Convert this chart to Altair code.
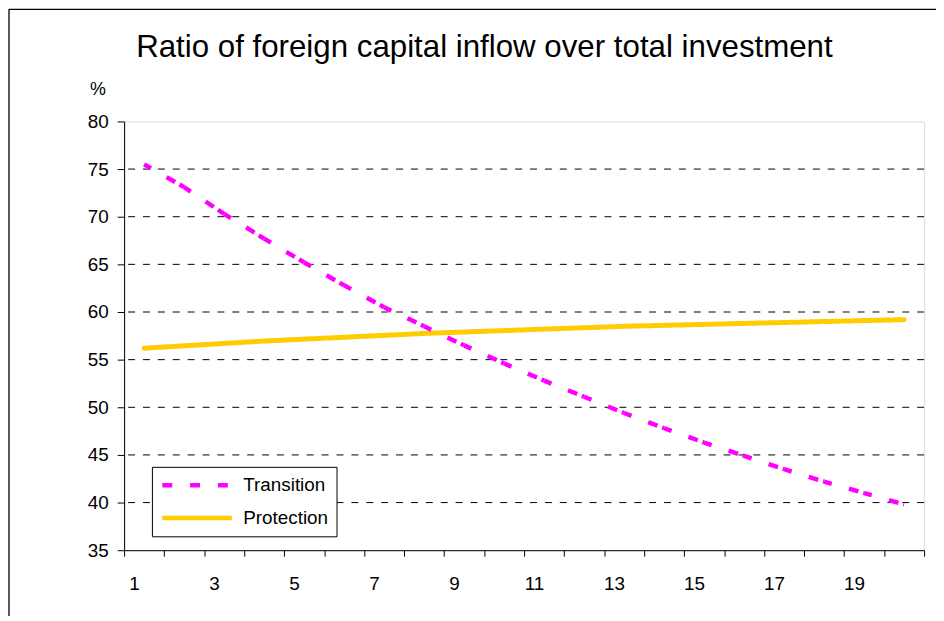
import altair as alt
import pandas as pd

# ---- data ----
periods = list(range(1, 21))
transition = [75.5, 73.1, 70.3, 67.7, 65.2, 62.8, 60.5, 58.5, 56.5, 54.6,
              52.8, 51.1, 49.4, 47.8, 46.3, 44.9, 43.5, 42.2, 41.0, 39.8]
protection = [56.2, 56.45, 56.7, 56.95, 57.15, 57.35, 57.55, 57.75, 57.9, 58.05,
              58.2, 58.35, 58.5, 58.6, 58.7, 58.8, 58.9, 59.0, 59.1, 59.2]
series_names = ["Transition", "Protection"]
series_colors = ["#FF00FF", "#FFCC00"]
y_ticks = [35, 40, 45, 50, 55, 60, 65, 70, 75, 80]
grid_values = [40, 45, 50, 55, 60, 65, 70, 75]
x_label_values = [1, 3, 5, 7, 9, 11, 13, 15, 17, 19]
title_text = "Ratio of foreign capital inflow over total investment"
y_title = "%"

FONT = "Liberation Sans"
W, H = 806, 432

# ---- tables built from the arrays ----
prot_df = pd.DataFrame({"period": periods, "value": protection, "series": series_names[1]})
seg_df = pd.DataFrame({
    "period": periods[:-1],
    "period2": periods[1:],
    "value": transition[:-1],
    "value2": transition[1:],
    "series": series_names[0],
})
grid_df = pd.DataFrame({"g": grid_values})
one_df = pd.DataFrame({"k": [0]})

x_bounds = [p - 0.5 for p in periods] + [periods[-1] + 0.5]
label_list = "[" + ",".join(str(v) for v in x_label_values) + "]"

x_axis = alt.Axis(
    values=x_bounds, title=None, grid=False,
    labelExpr=f"indexof({label_list}, datum.value + 0.5) >= 0 ? format(datum.value + 0.5, 'd') : ''",
    labelOffset=10, labelPadding=19, tickSize=6, labelFlush=False, labelOverlap=False,
    labelFontSize=19, labelFont=FONT, labelColor="black",
    domainColor="black", tickColor="black", domainWidth=1, tickWidth=1,
)
y_axis = alt.Axis(
    values=y_ticks, grid=False, title=y_title, titleAngle=0, titleX=-27, titleY=-32,
    titleAlign="center", titleBaseline="middle", titleFontSize=18, titleFont=FONT,
    titleFontWeight="normal", titleColor="black",
    tickSize=7, labelPadding=9, labelFontSize=19, labelFont=FONT, labelColor="black",
    domainColor="black", tickColor="black", domainWidth=1, tickWidth=1,
)
x_scale = alt.Scale(domain=[0.5, 20.5], nice=False, zero=False)
y_scale = alt.Scale(domain=[35, 80], nice=False, zero=False)
color_scale = alt.Scale(domain=series_names, range=series_colors)
dash_scale = alt.Scale(domain=series_names, range=[[10, 18], [1, 0]])

legend = alt.Legend(
    title=None, orient="none", legendX=28, legendY=348, direction="vertical",
    symbolType="stroke", symbolSize=4900, symbolStrokeWidth=4.5, symbolOpacity=1,
    clipHeight=21, labelFontSize=19, labelFont=FONT, labelColor="black", labelOffset=9,
    padding=8, rowPadding=12, strokeColor="black", fillColor="white",
    cornerRadius=0,
)

grid = alt.Chart(grid_df).mark_rule(color="black", strokeWidth=1, strokeDash=[7, 8]).encode(
    y=alt.Y("g:Q", scale=y_scale, axis=y_axis)
)

prot = alt.Chart(prot_df).mark_line(strokeWidth=5, strokeCap="round").encode(
    x=alt.X("period:Q", scale=x_scale, axis=x_axis),
    y=alt.Y("value:Q", scale=y_scale, axis=y_axis),
    color=alt.Color("series:N", scale=color_scale, legend=legend),
    strokeDash=alt.StrokeDash("series:N", scale=dash_scale, legend=legend),
)

trans = alt.Chart(seg_df).mark_rule(strokeWidth=4.5, strokeCap="butt",
                                    strokeDash=[8, 18, 10, 5, 30, 10]).encode(
    x=alt.X("period:Q", scale=x_scale, axis=x_axis),
    x2="period2",
    y=alt.Y("value:Q", scale=y_scale, axis=y_axis),
    y2="value2",
    color=alt.Color("series:N", scale=color_scale, legend=legend),
)

frame_top = alt.Chart(one_df).mark_rule(color="black", strokeWidth=1.3).encode(
    x=alt.value(-116), x2=alt.value(W + 30), y=alt.value(-113)
)
frame_left = alt.Chart(one_df).mark_rule(color="black", strokeWidth=1.3).encode(
    x=alt.value(-116), y=alt.value(-113), y2=alt.value(H + 80)
)

chart = alt.layer(grid, prot, trans, frame_top, frame_left).properties(
    width=W, height=H,
    autosize=alt.AutoSizeParams(type="none"),
    padding={"left": 117, "top": 112, "right": 12, "bottom": 64},
    title=alt.TitleParams(title_text, fontSize=31.5, font=FONT, fontWeight="normal",
                          color="black", anchor="middle", dx=-40, dy=65, offset=10),
).configure_view(stroke=None).configure(background="white")

chart.save("out.html", embed_options={"renderer": "svg", "actions": False})
